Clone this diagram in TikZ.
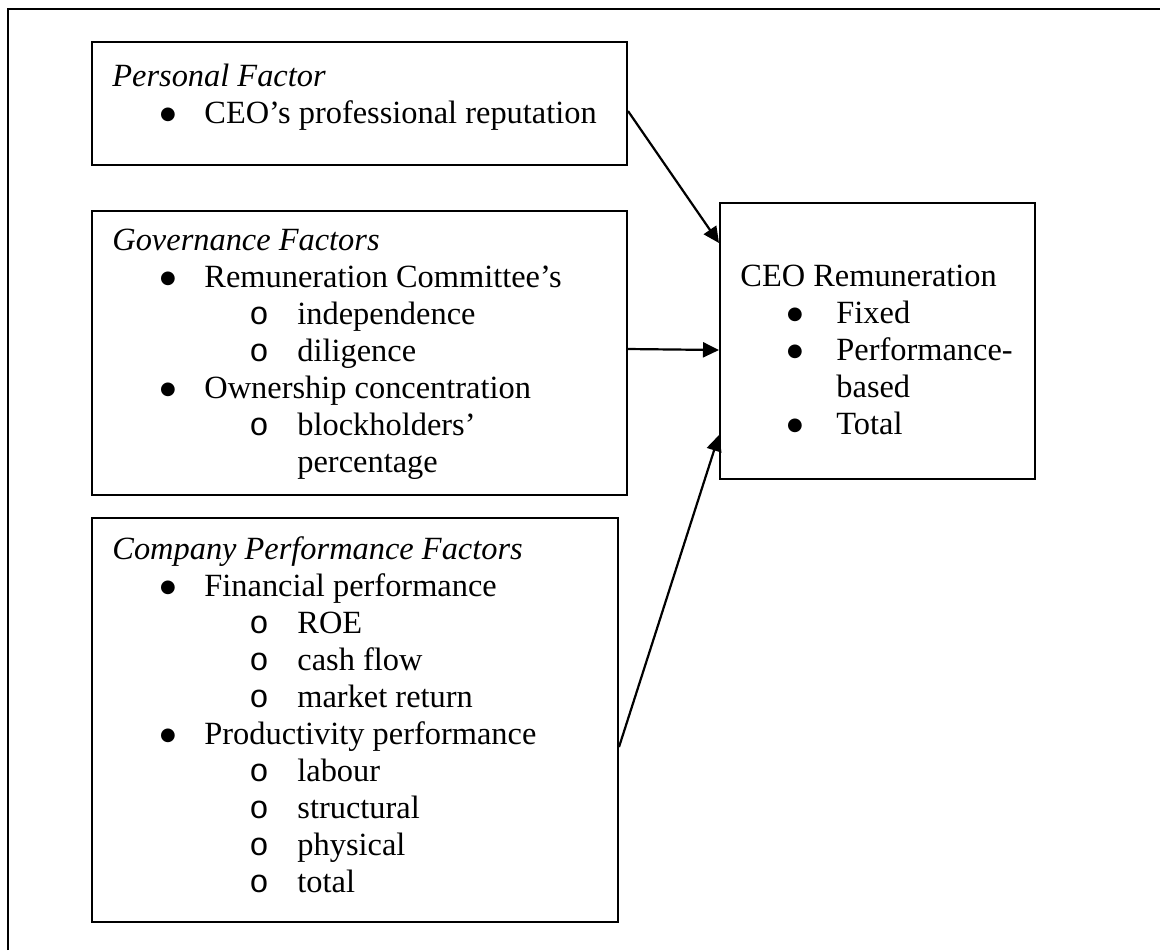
\documentclass[tikz,border=0pt]{standalone}
\usepackage{fontspec}
\setmainfont{Liberation Serif}
\newfontfamily\subbulletfont{Liberation Mono}
\newfontfamily\bulletfont{DejaVu Sans}
\usetikzlibrary{arrows.meta,calc}
\newcommand\diagfs{\fontsize{16.2}{18.5}\selectfont}
\begin{document}
\begin{tikzpicture}[x=0.5pt,y=-0.5pt,
  box/.style={draw,line width=1pt,rectangle,anchor=north west,inner sep=0pt},
  txt/.style={anchor=base west,inner sep=0pt,font=\diagfs},
  ttl/.style={anchor=base west,inner sep=0pt,font=\diagfs\itshape},
  bul/.style={anchor=center,inner sep=0pt,font=\fontsize{9}{9}\bulletfont,yshift=4pt},
  sbul/.style={anchor=base,inner sep=0pt,font=\diagfs\subbulletfont},
  arr/.style={-{Triangle[length=8pt,width=7.5pt]},line width=1.1pt}]
\useasboundingbox (0,0) rectangle (1160,950);
% page frame (top and left rules)
\draw[line width=1.3pt] (8,950) -- (8,9) -- (1160,9);

% boxes
\node[box,minimum width=267.5pt,minimum height=61.5pt] (pers) at (91,41) {};
\node[box,minimum width=267.5pt,minimum height=142pt] (gov) at (91,210) {};
\node[box,minimum width=263pt,minimum height=202pt] (comp) at (91,517) {};
\node[box,minimum width=157.5pt,minimum height=138pt] (ceo) at (719,202) {};

% personal factor
\node[ttl] (p0) at (112,86) {Personal Factor};
\node[bul] (p1b) at (168,123) {●};
\node[txt] (p1) at (204,123) {CEO’s professional reputation};

% governance factors
\node[ttl] (g0) at (112,250) {Governance Factors};
\node[bul] (g1b) at (168,287) {●};
\node[txt] (g1) at (204,287) {Remuneration Committee’s};
\node[sbul] (g2b) at (259,324) {o};
\node[txt] (g2) at (297,324) {independence};
\node[sbul] (g3b) at (259,361) {o};
\node[txt] (g3) at (297,361) {diligence};
\node[bul] (g4b) at (168,398) {●};
\node[txt] (g4) at (204,398) {Ownership concentration};
\node[sbul] (g5b) at (259,435) {o};
\node[txt] (g5) at (297,435) {blockholders’};
\node[txt] (g6) at (297,472) {percentage};

% company performance factors
\node[ttl] (c0) at (112,559) {Company Performance Factors};
\node[bul] (c1b) at (168,596) {●};
\node[txt] (c1) at (204,596) {Financial performance};
\node[sbul] (c2b) at (259,633) {o};
\node[txt] (c2) at (297,633) {ROE};
\node[sbul] (c3b) at (259,670) {o};
\node[txt] (c3) at (297,670) {cash flow};
\node[sbul] (c4b) at (259,707) {o};
\node[txt] (c4) at (297,707) {market return};
\node[bul] (c5b) at (168,744) {●};
\node[txt] (c5) at (204,744) {Productivity performance};
\node[sbul] (c6b) at (259,781) {o};
\node[txt] (c6) at (297,781) {labour};
\node[sbul] (c7b) at (259,818) {o};
\node[txt] (c7) at (297,818) {structural};
\node[sbul] (c8b) at (259,855) {o};
\node[txt] (c8) at (297,855) {physical};
\node[sbul] (c9b) at (259,892) {o};
\node[txt] (c9) at (297,892) {total};

% CEO remuneration
\node[txt] (r0) at (740,286) {CEO Remuneration};
\node[bul] (r1b) at (795,323) {●};
\node[txt] (r1) at (836,323) {Fixed};
\node[bul] (r2b) at (795,360) {●};
\node[txt] (r2) at (836,360) {Performance-};
\node[txt] (r3) at (836,397) {based};
\node[bul] (r4b) at (795,434) {●};
\node[txt] (r4) at (836,434) {Total};

% connectors
\draw[arr] ($(pers.north east)+(0,70)$) -- ($(ceo.north west)+(0,41)$);
\draw[arr] ($(gov.north east)+(0,139)$) -- ($(ceo.north west)+(0,148)$);
\draw[arr] ($(comp.north east)+(0,230)$) -- ($(ceo.north west)+(0,233)$);
\end{tikzpicture}
\end{document}
